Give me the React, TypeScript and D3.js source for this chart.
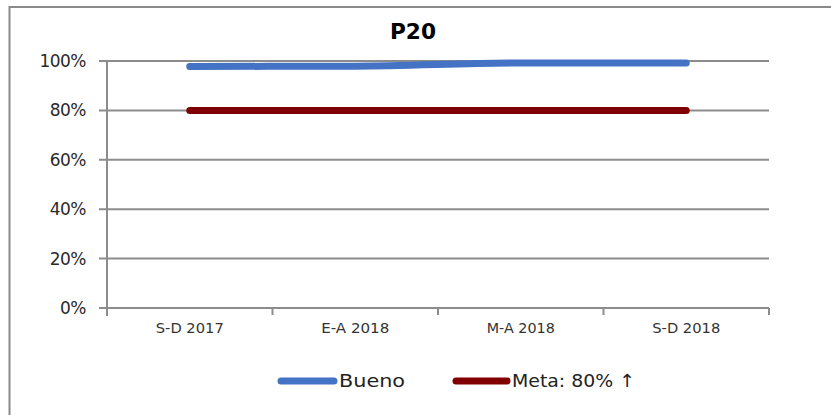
import React from "react";
import * as d3 from "d3";

const categories = ["S-D 2017", "E-A 2018", "M-A 2018", "S-D 2018"];
const bueno = [0.978, 0.979, 0.992, 0.992];
const meta = [0.8, 0.8, 0.8, 0.8];
const yTicks = [0, 0.2, 0.4, 0.6, 0.8, 1.0];
const seriesNames = ["Bueno", "Meta: 80% \u2191"];
const title = "P20";

const W = 831, H = 415;
const plot = { left: 107, right: 769, top: 61, bottom: 308 };
const font = "'DejaVu Sans', sans-serif";

export default function App() {
  const x = d3.scaleBand<string>().domain(categories).range([plot.left, plot.right]);
  const y = d3.scaleLinear().domain([0, 1]).range([plot.bottom, plot.top]);
  const cx = (c: string) => (x(c) as number) + x.bandwidth() / 2;
  const line = d3
    .line<number>()
    .x((_, i) => cx(categories[i]))
    .y((d) => y(d))
    .curve(d3.curveMonotoneX);
  const fmt = d3.format(".0%");
  const tickXs = [...categories.map((c) => x(c) as number), plot.right];
  const grid = "#8c8c8c";

  return (
    <svg width={W} height={H} style={{ position: "absolute", left: 0, top: 0 }}>
      <rect x={0} y={0} width={W} height={H} fill="#fff" />
      <rect x={9.5} y={7} width={W + 20} height={H + 20} fill="none" stroke="#8a8a8a" strokeWidth={2} />
      <text x={413} y={39} textAnchor="middle" fontFamily={font} fontWeight="bold" fontSize={21} fill="#000" textLength={46} lengthAdjust="spacingAndGlyphs">
        {title}
      </text>
      {yTicks.map((t) => (
        <g key={t}>
          <line x1={plot.left - 8} x2={plot.right} y1={y(t)} y2={y(t)} stroke={grid} strokeWidth={2} />
          <text x={86} y={y(t) + 6} textAnchor="end" fontFamily={font} fontSize={17} fill="#2a2a2a" letterSpacing={-0.5}>
            {fmt(t)}
          </text>
        </g>
      ))}
      <line x1={plot.left} x2={plot.left} y1={plot.top} y2={plot.bottom + 8} stroke={grid} strokeWidth={2} />
      {tickXs.map((tx, i) => (
        <line key={i} x1={tx} x2={tx} y1={plot.bottom} y2={plot.bottom + 7} stroke={grid} strokeWidth={2} />
      ))}
      {categories.map((c) => (
        <text key={c} x={cx(c)} y={plot.bottom + 25} textAnchor="middle" fontFamily={font} fontSize={13.5} fill="#333" textLength={68} lengthAdjust="spacingAndGlyphs">
          {c}
        </text>
      ))}
      <path d={line(meta) || ""} fill="none" stroke="#800000" strokeWidth={7} strokeLinecap="round" />
      <path d={line(bueno) || ""} fill="none" stroke="#4472C4" strokeWidth={7} strokeLinecap="round" />
      <g>
        <line x1={281} x2={334} y1={381} y2={381} stroke="#4472C4" strokeWidth={7} strokeLinecap="round" />
        <text x={339} y={387} fontFamily={font} fontSize={18} fill="#222" textLength={66} lengthAdjust="spacingAndGlyphs">
          {seriesNames[0]}
        </text>
        <line x1={456} x2={507} y1={381} y2={381} stroke="#800000" strokeWidth={7} strokeLinecap="round" />
        <text x={512} y={387} fontFamily={font} fontSize={18} fill="#222" textLength={123} lengthAdjust="spacingAndGlyphs">
          {seriesNames[1]}
        </text>
      </g>
    </svg>
  );
}
